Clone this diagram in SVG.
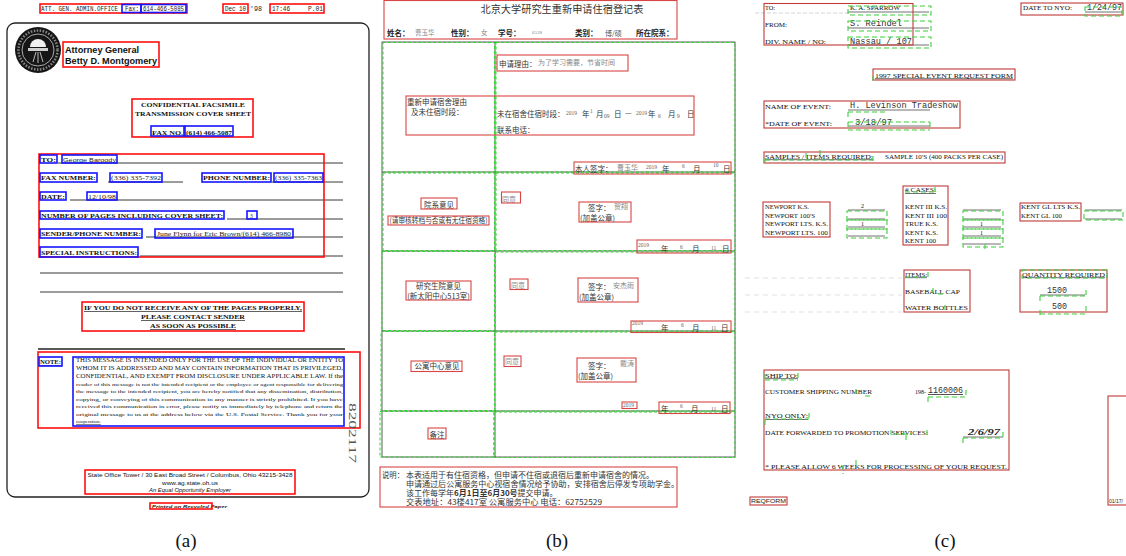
<svg xmlns="http://www.w3.org/2000/svg" width="1126" height="556" viewBox="0 0 1126 556">
<style>
.ra{fill:none;stroke:#ff1010;stroke-width:1.6}
.ba{fill:none;stroke:#1515ff;stroke-width:1.6}
.rb{fill:none;stroke:#d94545;stroke-width:1.1}
.gb{fill:none;stroke:#33d433;stroke-width:1;stroke-dasharray:3 2}
.rc{fill:none;stroke:#c23a3a;stroke-width:1.1}
.gc{fill:none;stroke:#3ccf3c;stroke-width:1.1;stroke-dasharray:5 3}
.ln{stroke:#222;stroke-width:0.9;fill:none}
.lnc{stroke:#333;stroke-width:0.7;fill:none}
.mono{font-family:"Liberation Mono",monospace}
.ser{font-family:"Liberation Serif",serif}
.sans{font-family:"Liberation Sans",sans-serif}
.cjk{font-family:"Noto Sans CJK SC",sans-serif}
.bd{font-weight:bold}
.gr{fill:#777}
.lab{font-family:"Liberation Serif",serif;font-size:19px;fill:#111}
.fa{font-family:"Liberation Serif",serif;font-weight:bold;font-size:6px;fill:#111}
.fv{font-family:"Liberation Serif",serif;font-size:5.6px;fill:#222}
.cb{font-family:"Noto Sans CJK SC",sans-serif;font-size:7.5px;fill:#333}
.cg{font-family:"Noto Sans CJK SC",sans-serif;font-size:7px;fill:#888}
.dg{font-family:"Liberation Serif",serif;font-size:5.5px;fill:#666}
.tc{font-family:"Liberation Serif",serif;font-size:6px;fill:#111}
.mc{font-family:"Liberation Mono",monospace;font-size:8.5px;fill:#333}
</style>
<rect width="1126" height="556" fill="#fff"/>

<!-- ================= PANEL A ================= -->
<g id="panel-a">
  <g id="a-header" class="mono" font-size="6.5" fill="#222">
    <text x="41" y="11" textLength="77" lengthAdjust="spacingAndGlyphs">ATT. GEN. ADMIN.OFFICE</text>
    <text x="125" y="11" textLength="14" lengthAdjust="spacingAndGlyphs">Fax:</text>
    <text x="143" y="11" textLength="41" lengthAdjust="spacingAndGlyphs">614-466-5085</text>
    <text x="225" y="11" textLength="21" lengthAdjust="spacingAndGlyphs">Dec 10</text>
    <text x="250" y="11" textLength="12" lengthAdjust="spacingAndGlyphs">'98</text>
    <text x="272" y="11" textLength="18" lengthAdjust="spacingAndGlyphs">17:46</text>
    <text x="308" y="11" textLength="15" lengthAdjust="spacingAndGlyphs">P.01</text>
    <rect class="ra" x="40" y="4" width="147" height="9"/>
    <rect class="ba" x="122" y="4.5" width="19" height="8"/>
    <rect class="ba" x="141" y="4.5" width="45" height="8"/>
    <rect class="ra" x="223" y="4" width="25" height="9"/>
    <rect class="ra" x="270" y="4" width="54" height="9"/>
  </g>

  <rect id="a-page" x="7" y="23" width="362" height="474" rx="8" fill="none" stroke="#222" stroke-width="1.3"/>

  <g id="a-seal">
    <circle cx="38" cy="50" r="23" fill="#161616"/>
    <circle cx="38" cy="50" r="19.5" fill="none" stroke="#888" stroke-width="2.5" stroke-dasharray="1.5 1.5"/>
    <circle cx="38" cy="50" r="16" fill="none" stroke="#e8e8e8" stroke-width="0.7"/>
    <path d="M30 47 a8 8 0 0 1 16 0 z" fill="#f0f0f0"/>
    <rect x="28" y="48" width="20" height="3" fill="#cfcfcf"/>
    <path d="M36 52 l-3 10 M40 52 l3 10 M38 52 v11" stroke="#bbb" stroke-width="1"/>
  </g>

  <g id="a-title">
    <text class="sans bd" x="65" y="53" font-size="9" fill="#111" textLength="74" lengthAdjust="spacingAndGlyphs">Attorney General</text>
    <text class="sans bd" x="65" y="64" font-size="9" fill="#111" textLength="92" lengthAdjust="spacingAndGlyphs">Betty D. Montgomery</text>
    <rect class="ra" x="63" y="42" width="96" height="25"/>
  </g>

  <g id="a-cover">
    <text class="ser bd" x="193" y="107" font-size="6.6" text-anchor="middle" fill="#111" textLength="104" lengthAdjust="spacingAndGlyphs">CONFIDENTIAL FACSIMILE</text>
    <text class="ser bd" x="193" y="116" font-size="6.6" text-anchor="middle" fill="#111" textLength="116" lengthAdjust="spacingAndGlyphs">TRANSMISSION COVER SHEET</text>
    <text class="ser bd" x="152" y="134.5" font-size="6.6" fill="#111" textLength="31" lengthAdjust="spacingAndGlyphs">FAX NO.</text>
    <text class="ser bd" x="186" y="134.5" font-size="6.6" fill="#111" textLength="46" lengthAdjust="spacingAndGlyphs">(614) 466-5087</text>
    <rect class="ra" x="132" y="99" width="121" height="38"/>
    <rect class="ba" x="151" y="126" width="33" height="10"/>
    <rect class="ba" x="185" y="126" width="48" height="10"/>
  </g>

  <g id="a-form">
    <g class="ln">
      <line x1="58" y1="163" x2="343" y2="163"/>
      <line x1="108" y1="182" x2="183" y2="182"/>
      <line x1="272" y1="182" x2="343" y2="182"/>
      <line x1="70" y1="200" x2="343" y2="200"/>
      <line x1="227" y1="219" x2="343" y2="219"/>
      <line x1="146" y1="237" x2="343" y2="237"/>
      <line x1="140" y1="256" x2="343" y2="256"/>
      <line x1="40" y1="273" x2="343" y2="273"/>
      <line x1="40" y1="292" x2="343" y2="292"/>
    </g>
    <text class="fa" x="41" y="162" textLength="15" lengthAdjust="spacingAndGlyphs">TO:</text>
    <text class="sans" x="63" y="162" font-size="5.5" fill="#222" textLength="53" lengthAdjust="spacingAndGlyphs">George Baroody</text>
    <text class="fa" x="41" y="180" textLength="55" lengthAdjust="spacingAndGlyphs">FAX NUMBER:</text>
    <text class="fv" x="111" y="180" textLength="50" lengthAdjust="spacingAndGlyphs">(336) 335-7392</text>
    <text class="fa" x="203" y="180" textLength="67" lengthAdjust="spacingAndGlyphs">PHONE NUMBER:</text>
    <text class="fv" x="275" y="180" textLength="47" lengthAdjust="spacingAndGlyphs">(336) 335-7363</text>
    <text class="fa" x="41" y="199" textLength="24" lengthAdjust="spacingAndGlyphs">DATE:</text>
    <text class="fv" x="88" y="199" textLength="28" lengthAdjust="spacingAndGlyphs">12/10/98</text>
    <text class="fa" x="41" y="218" textLength="182" lengthAdjust="spacingAndGlyphs">NUMBER OF PAGES INCLUDING COVER SHEET:</text>
    <text class="fv" x="250" y="218">3</text>
    <text class="fa" x="41" y="236" textLength="100" lengthAdjust="spacingAndGlyphs">SENDER/PHONE NUMBER:</text>
    <text class="fv" x="157" y="236" textLength="134" lengthAdjust="spacingAndGlyphs">June Flynn for Eric Brown/(614) 466-8980</text>
    <text class="fa" x="41" y="255" textLength="96" lengthAdjust="spacingAndGlyphs">SPECIAL INSTRUCTIONS:</text>
    <rect class="ra" x="39" y="154" width="285" height="103"/>
    <rect class="ba" x="40" y="155" width="17" height="8"/>
    <rect class="ba" x="62" y="155" width="55" height="8"/>
    <rect class="ba" x="40" y="173" width="57" height="9"/>
    <rect class="ba" x="110" y="173" width="52" height="9"/>
    <rect class="ba" x="202" y="173" width="69" height="9"/>
    <rect class="ba" x="274" y="173" width="49" height="9"/>
    <rect class="ba" x="40" y="192" width="26" height="8"/>
    <rect class="ba" x="87" y="192" width="30" height="8"/>
    <rect class="ba" x="40" y="211" width="184" height="8"/>
    <rect class="ba" x="247" y="211" width="10" height="8"/>
    <rect class="ba" x="40" y="229" width="102" height="9"/>
    <rect class="ba" x="155" y="229" width="138" height="9"/>
    <rect class="ba" x="40" y="247" width="98" height="10"/>
  </g>

  <g id="a-warning">
    <text class="ser bd" x="193" y="310" font-size="6.6" text-anchor="middle" fill="#111" text-decoration="underline" textLength="218" lengthAdjust="spacingAndGlyphs">IF YOU DO NOT RECEIVE ANY OF THE PAGES PROPERLY,</text>
    <text class="ser bd" x="193" y="319" font-size="6.6" text-anchor="middle" fill="#111" text-decoration="underline" textLength="104" lengthAdjust="spacingAndGlyphs">PLEASE CONTACT SENDER</text>
    <text class="ser bd" x="193" y="328" font-size="6.6" text-anchor="middle" fill="#111" text-decoration="underline" textLength="86" lengthAdjust="spacingAndGlyphs">AS SOON AS POSSIBLE</text>
    <rect class="ra" x="82" y="302" width="222" height="29"/>
  </g>

  <g id="a-note">
    <line x1="38" y1="349" x2="345" y2="349" stroke="#222" stroke-width="1.4"/>
    <text class="fa" x="40" y="364" font-size="5.5" text-decoration="underline" textLength="21" lengthAdjust="spacingAndGlyphs">NOTE:</text>
    <g class="ser" fill="#111">
      <text x="76" y="362" font-size="5.8" textLength="267" lengthAdjust="spacingAndGlyphs">THIS MESSAGE IS INTENDED ONLY FOR THE USE OF THE INDIVIDUAL OR ENTITY TO</text>
      <text x="76" y="370" font-size="5.8" textLength="267" lengthAdjust="spacingAndGlyphs">WHOM IT IS ADDRESSED AND MAY CONTAIN INFORMATION THAT IS PRIVILEGED,</text>
      <text x="76" y="378" font-size="5.8" textLength="267" lengthAdjust="spacingAndGlyphs">CONFIDENTIAL, AND EXEMPT FROM DISCLOSURE UNDER APPLICABLE LAW.  If the</text>
      <text x="76" y="385.5" font-size="5" textLength="267" lengthAdjust="spacingAndGlyphs">reader of this message is not the intended recipient or the employee or agent responsible for delivering</text>
      <text x="76" y="393" font-size="5" textLength="267" lengthAdjust="spacingAndGlyphs">the message to the intended recipient, you are hereby notified that any dissemination, distribution,</text>
      <text x="76" y="400.5" font-size="5" textLength="267" lengthAdjust="spacingAndGlyphs">copying, or conveying of this communication in any manner is strictly prohibited.  If you have</text>
      <text x="76" y="408" font-size="5" textLength="267" lengthAdjust="spacingAndGlyphs">received this communication in error, please notify us immediately by telephone and return the</text>
      <text x="76" y="415.5" font-size="5" textLength="267" lengthAdjust="spacingAndGlyphs">original message to us at the address below via the U.S. Postal Service.  Thank you for your</text>
      <text x="76" y="423" font-size="5" text-decoration="underline">cooperation.</text>
    </g>
    <rect class="ra" x="38" y="352" width="322" height="76"/>
    <rect class="ba" x="39" y="357" width="23" height="9"/>
    <rect class="ba" x="73" y="357" width="271" height="69"/>
    <text class="ser" x="349" y="403" font-size="11" fill="#555" transform="rotate(90 349 403)" textLength="60" lengthAdjust="spacingAndGlyphs">8202117</text>
  </g>

  <g id="a-footer">
    <text class="sans" x="190" y="476.5" font-size="5.6" text-anchor="middle" fill="#111" textLength="205" lengthAdjust="spacingAndGlyphs">State Office Tower / 30 East Broad Street / Columbus, Ohio  43215-3428</text>
    <text class="sans" x="190" y="484.5" font-size="5.6" text-anchor="middle" fill="#111" textLength="56" lengthAdjust="spacingAndGlyphs">www.ag.state.oh.us</text>
    <text class="sans" x="190" y="492" font-size="5.4" font-style="italic" text-anchor="middle" fill="#111" textLength="82" lengthAdjust="spacingAndGlyphs">An Equal Opportunity Employer</text>
    <rect class="ra" x="85" y="470" width="210" height="24"/>
    <text class="sans bd" x="152" y="508" font-size="3.6" font-style="italic" fill="#111" textLength="75" lengthAdjust="spacingAndGlyphs">Printed on Recycled Paper</text>
    <rect class="ra" x="150" y="503" width="62" height="6" stroke-width="1.2"/>
  </g>
  <text class="lab" x="186" y="547" text-anchor="middle">(a)</text>
</g>

<!-- ================= PANEL B ================= -->
<g id="panel-b">
  <g id="b-head">
    <text class="cjk" x="562" y="12.5" font-size="10" text-anchor="middle" fill="#333" textLength="163" lengthAdjust="spacingAndGlyphs">北京大学研究生重新申请住宿登记表</text>
    <g class="cjk" font-size="7.5">
      <text x="387" y="36" class="bd" fill="#222">姓名：</text>
      <text x="415" y="35" fill="#888" font-size="6.5">曹玉华</text>
      <text x="451" y="36" class="bd" fill="#222">性别：</text>
      <text x="481" y="35" fill="#888" font-size="6.5">女</text>
      <text x="498" y="36" class="bd" fill="#222">学号：</text>
      <text x="532" y="34" class="ser" fill="#888" font-size="5">6528</text>
      <text x="575" y="36" class="bd" fill="#222">类别：</text>
      <text x="605" y="36" fill="#555" font-size="7">博/硕</text>
      <text x="636" y="36" class="bd" fill="#222">所在院系：</text>
    </g>
    <rect class="rb" x="384" y="0.5" width="293" height="38.5"/>
  </g>

  <g id="b-grid">
    <rect x="382" y="42" width="353" height="415" fill="none" stroke="#333" stroke-width="0.8"/>
    <g stroke="#333" stroke-width="0.8">
      <line x1="495" y1="42" x2="495" y2="457"/>
      <line x1="382" y1="172" x2="735" y2="172"/>
      <line x1="382" y1="251" x2="735" y2="251"/>
      <line x1="382" y1="331" x2="735" y2="331"/>
      <line x1="382" y1="411" x2="735" y2="411"/>
    </g>
    <g class="gb">
      <rect x="383" y="42.5" width="111.5" height="129.5"/>
      <rect x="496" y="42.5" width="239" height="129.5"/>
      <rect x="383" y="173" width="111.5" height="77.5"/>
      <rect x="496" y="173" width="239" height="77.5"/>
      <rect x="382" y="251.5" width="112.5" height="79"/>
      <rect x="495.5" y="252" width="239.5" height="79"/>
      <rect x="381" y="331.5" width="113.5" height="79"/>
      <rect x="494.5" y="332" width="240.5" height="79"/>
      <rect x="380" y="411.5" width="114" height="45.5"/>
      <rect x="494" y="412" width="241" height="45.5"/>
    </g>
  </g>

  <g id="b-row1">
    <text class="cb" x="499" y="67" font-size="7">申请理由：</text>
    <text class="cg" x="538" y="65" font-size="7">为了学习需要，节省时间</text>
    <rect class="rb" x="497" y="55" width="131" height="16"/>
    <text class="cb" x="407" y="105" font-size="7.8">重新申请宿舍理由</text>
    <text class="cb" x="411" y="114.5" font-size="7.3">及未住宿时段：</text>
    <text class="cb" x="497" y="117" font-size="7.5">未在宿舍住宿时段：</text>
    <text class="dg" x="566" y="115">2019</text>
    <text class="cb" x="582" y="117">年</text>
    <text class="dg" x="590" y="113" font-size="4.5">1</text>
    <text class="cb" x="596" y="117">月</text>
    <text class="dg" x="604" y="118">09</text>
    <text class="cb" x="614" y="117">日</text>
    <text class="cb" x="625" y="116">—</text>
    <text class="dg" x="636" y="115">2019</text>
    <text class="cb" x="648" y="117">年</text>
    <text class="dg" x="658" y="118">6</text>
    <text class="cb" x="668" y="117">月</text>
    <text class="dg" x="677" y="118">9</text>
    <text class="cb" x="687" y="117">日</text>
    <text class="cb" x="497" y="133">联系电话：</text>
    <rect class="rb" x="406" y="96" width="288" height="39"/>
    <text class="cb" x="575" y="172" font-size="7.3">本人签字：</text>
    <text class="cg" x="617" y="170">曹玉华</text>
    <text class="dg" x="646" y="169">2019</text>
    <text class="cb" x="662" y="172">年</text>
    <text class="dg" x="682" y="168">6</text>
    <text class="cb" x="693" y="172">月</text>
    <text class="dg" x="713" y="167">10</text>
    <text class="cb" x="723" y="172">日</text>
    <rect class="rb" x="574" y="162" width="157" height="12"/>
  </g>

  <g id="b-row2">
    <text class="cb" x="439" y="207.5" font-size="8" text-anchor="middle">院系意见</text>
    <rect class="rb" x="421" y="198" width="36" height="11"/>
    <text class="cb" x="438.5" y="223" font-size="5.9" text-anchor="middle" textLength="98" lengthAdjust="spacingAndGlyphs">(请审核转档与否或有无住宿资格)</text>
    <rect class="rb" x="388" y="216" width="101" height="9"/>
    <text class="cg" x="502" y="201.5" font-size="7.8">同意</text>
    <rect class="rb" x="501.5" y="192" width="19" height="11"/>
    <text class="cb" x="588" y="211">签字：</text>
    <text class="cg" x="614" y="209">贺翔</text>
    <text class="cb" x="580" y="220.5">(加盖公章)</text>
    <rect class="rb" x="579" y="202" width="52" height="20"/>
    <text class="dg" x="638" y="247">2019</text>
    <text class="cb" x="661" y="252">年</text>
    <text class="dg" x="680" y="249">6</text>
    <text class="cb" x="692" y="252">月</text>
    <text class="dg" x="711" y="250">11</text>
    <text class="cb" x="722" y="252">日</text>
    <rect class="rb" x="637" y="240" width="94" height="13"/>
  </g>

  <g id="b-row3">
    <text class="cb" x="438.5" y="289" font-size="8.4" text-anchor="middle">研究生院意见</text>
    <text class="cb" x="438.5" y="298.5" font-size="7" text-anchor="middle">(新太阳中心513室)</text>
    <rect class="rb" x="406" y="281" width="65" height="19"/>
    <text class="cg" x="511" y="288" font-size="7.8">同意</text>
    <rect class="rb" x="510" y="279" width="18" height="10.5"/>
    <text class="cb" x="588" y="290">签字：</text>
    <text class="cg" x="613" y="288">安杰雨</text>
    <text class="cb" x="579" y="300">(加盖公章)</text>
    <rect class="rb" x="578" y="278" width="60" height="24"/>
    <text class="dg" x="632" y="325">2019</text>
    <text class="cb" x="661" y="330.5">年</text>
    <text class="dg" x="681" y="327">6</text>
    <text class="cb" x="692" y="330.5">月</text>
    <text class="dg" x="711" y="330">11</text>
    <text class="cb" x="721" y="330.5">日</text>
    <rect class="rb" x="631" y="321" width="100" height="11.5"/>
  </g>

  <g id="b-row4">
    <text class="cb" x="437" y="369" font-size="8.2" text-anchor="middle">公寓中心意见</text>
    <rect class="rb" x="411" y="361" width="51" height="10.5"/>
    <text class="cg" x="505" y="364" font-size="7.5">同意</text>
    <rect class="rb" x="504" y="356" width="17" height="10.5"/>
    <text class="cb" x="588" y="369">签字：</text>
    <text class="cg" x="620" y="366">戴涛</text>
    <text class="cb" x="578" y="378.5">(加盖公章)</text>
    <rect class="rb" x="577" y="358" width="59" height="24"/>
    <text class="dg" x="623" y="407">2019</text>
    <rect class="rb" x="622" y="402" width="15" height="6.5"/>
    <text class="cb" x="661" y="411.5">年</text>
    <text class="dg" x="680" y="408">6</text>
    <text class="cb" x="691" y="411.5">月</text>
    <text class="dg" x="711" y="411">11</text>
    <text class="cb" x="721" y="411.5">日</text>
    <rect class="rb" x="659" y="402" width="71" height="11.5"/>
  </g>

  <g id="b-row5">
    <text class="cb" x="437" y="437.5" font-size="8" text-anchor="middle">备注</text>
    <rect class="rb" x="428" y="428" width="18" height="11"/>
  </g>

  <g id="b-notes" class="cjk" font-size="8" fill="#333">
    <text x="382" y="477.5" textLength="22" lengthAdjust="spacingAndGlyphs">说明：</text>
    <text x="406" y="477.5" textLength="248" lengthAdjust="spacingAndGlyphs">本表适用于有住宿资格，但申请不住宿或退宿后重新申请宿舍的情况。</text>
    <text x="406" y="486.5" textLength="273" lengthAdjust="spacingAndGlyphs">申请通过后公寓服务中心视宿舍情况给予协助，安排宿舍后停发专项助学金。</text>
    <text x="406" y="495.5">该工作每学年<tspan font-weight="bold">6月1日至6月30号</tspan>提交申请。</text>
    <text x="406" y="505" textLength="196" lengthAdjust="spacingAndGlyphs">交表地址：43楼417室 公寓服务中心   电话：62752529</text>
    <rect class="rb" x="380" y="467" width="297" height="40"/>
  </g>
  <text class="lab" x="557" y="547" text-anchor="middle">(b)</text>
</g>

<!-- ================= PANEL C ================= -->
<g id="panel-c">
  <g id="c-head">
    <line x1="755" y1="13" x2="848" y2="13" stroke="#bbb" stroke-width="0.6" stroke-dasharray="4 2"/>
    <g class="lnc">
      <line x1="848" y1="12" x2="929" y2="12"/>
      <line x1="848" y1="28" x2="929" y2="28"/>
      <line x1="848" y1="45" x2="929" y2="45"/>
      <line x1="1085" y1="12" x2="1122" y2="12"/>
    </g>
    <text class="tc" x="765" y="10" textLength="10" lengthAdjust="spacingAndGlyphs">TO:</text>
    <text class="tc" x="850" y="10" textLength="50" lengthAdjust="spacingAndGlyphs">K. A. SPARROW</text>
    <text class="tc" x="765" y="27" textLength="22" lengthAdjust="spacingAndGlyphs">FROM:</text>
    <text class="mc" x="850" y="26" textLength="52" lengthAdjust="spacingAndGlyphs">S. Reindel</text>
    <text class="tc" x="765" y="44" textLength="61" lengthAdjust="spacingAndGlyphs">DIV. NAME / NO:</text>
    <text class="mc" x="850" y="43.5" textLength="62" lengthAdjust="spacingAndGlyphs">Nassau / 107</text>
    <rect class="rc" x="764" y="3.5" width="149" height="41.5"/>
    <rect class="gc" x="848" y="6" width="83" height="9"/>
    <rect class="gc" x="848" y="21" width="83" height="10"/>
    <rect class="gc" x="848" y="37" width="83" height="11"/>
    <text class="tc" x="1023" y="10" textLength="49" lengthAdjust="spacingAndGlyphs">DATE TO NYO:</text>
    <text class="mc" x="1087" y="10" textLength="35" lengthAdjust="spacingAndGlyphs">1/24/97</text>
    <rect class="rc" x="1021" y="3" width="102" height="12"/>
    <rect class="gc" x="1085" y="7" width="37" height="9"/>
  </g>

  <g id="c-formtitle">
    <text class="tc" x="875" y="77.5" text-decoration="underline" textLength="138" lengthAdjust="spacingAndGlyphs">1997 SPECIAL EVENT REQUEST FORM</text>
    <rect class="rc" x="873" y="69" width="142" height="11"/>
    <path class="gc" d="M873 76 v6"/>
  </g>

  <g id="c-event">
    <line class="lnc" x1="848" y1="110" x2="930" y2="110"/>
    <line class="lnc" x1="848" y1="126" x2="930" y2="126"/>
    <text class="tc" x="765" y="108.5" textLength="66" lengthAdjust="spacingAndGlyphs">NAME OF EVENT:</text>
    <text class="mc" x="850" y="108" textLength="108" lengthAdjust="spacingAndGlyphs">H. Levinson Tradeshow</text>
    <text class="tc" x="765" y="125.5" textLength="67" lengthAdjust="spacingAndGlyphs">*DATE OF EVENT:</text>
    <text class="mc" x="855" y="124.5" textLength="37" lengthAdjust="spacingAndGlyphs">3/18/97</text>
    <rect class="rc" x="764" y="101" width="196" height="27"/>
    <path class="gc" d="M848 112 h40 M848 112 v5 M848 122 h82 M848 122 v8 M848 130 h82 M930 122 v8"/>
  </g>

  <g id="c-samples">
    <text class="tc" x="765" y="158.5" text-decoration="underline" textLength="108" lengthAdjust="spacingAndGlyphs">SAMPLES / ITEMS REQUIRED:</text>
    <text class="tc" x="885" y="158.5" textLength="118" lengthAdjust="spacingAndGlyphs">SAMPLE 10'S (400 PACKS PER CASE)</text>
    <rect class="rc" x="764" y="152" width="241" height="11"/>
    <path class="gc" d="M765 158 v6 M765 160 h108 M806 153 v6 M873 156 v6 M820 150 v6"/>
  </g>

  <g id="c-brands">
    <text class="tc" x="765" y="209" textLength="44" lengthAdjust="spacingAndGlyphs">NEWPORT K.S.</text>
    <text class="tc" x="765" y="217.5" textLength="50" lengthAdjust="spacingAndGlyphs">NEWPORT 100'S</text>
    <text class="tc" x="765" y="226" textLength="63" lengthAdjust="spacingAndGlyphs">NEWPORT LTS. K.S.</text>
    <text class="tc" x="765" y="234.5" textLength="63" lengthAdjust="spacingAndGlyphs">NEWPORT LTS. 100</text>
    <rect class="rc" x="763" y="202" width="67" height="35"/>
    <g class="lnc">
      <line x1="848" y1="210" x2="885" y2="210"/>
      <line x1="848" y1="219" x2="885" y2="219"/>
      <line x1="848" y1="227" x2="885" y2="227"/>
      <line x1="848" y1="236" x2="885" y2="236"/>
    </g>
    <text class="tc" x="861" y="208" font-size="7">2</text>
    <text class="tc" x="861" y="226" font-size="7">1</text>
    <rect class="gc" x="847" y="211" width="40" height="9"/>
    <rect class="gc" x="847" y="220" width="40" height="9"/>
    <rect class="gc" x="847" y="229" width="40" height="9"/>

    <text class="tc" x="905" y="192" text-decoration="underline" textLength="31" lengthAdjust="spacingAndGlyphs"># CASES:</text>
    <text class="tc" x="905" y="209" textLength="42" lengthAdjust="spacingAndGlyphs">KENT III K.S.</text>
    <text class="tc" x="905" y="217.5" textLength="42" lengthAdjust="spacingAndGlyphs">KENT III 100</text>
    <text class="tc" x="905" y="226" textLength="33" lengthAdjust="spacingAndGlyphs">TRUE K.S.</text>
    <text class="tc" x="905" y="234.5" textLength="33" lengthAdjust="spacingAndGlyphs">KENT K.S.</text>
    <text class="tc" x="905" y="243" textLength="31" lengthAdjust="spacingAndGlyphs">KENT 100</text>
    <rect class="rc" x="903" y="186" width="45" height="59"/>
    <path class="gc" d="M905 192 h30 M935 187 v6"/>
    <g class="lnc">
      <line x1="963" y1="210" x2="1001" y2="210"/>
      <line x1="963" y1="219" x2="1001" y2="219"/>
      <line x1="963" y1="227" x2="1001" y2="227"/>
      <line x1="963" y1="236" x2="1001" y2="236"/>
      <line x1="963" y1="244" x2="1001" y2="244"/>
    </g>
    <text class="tc" x="980" y="226" font-size="7">1</text>
    <text class="tc" x="980" y="234.5" font-size="7">1</text>
    <rect class="gc" x="963" y="211" width="40" height="9"/>
    <rect class="gc" x="963" y="220" width="40" height="9"/>
    <rect class="gc" x="963" y="229" width="40" height="9"/>
    <rect class="gc" x="963" y="238" width="40" height="9"/>
    <path class="gc" d="M985 244 v6"/>

    <text class="tc" x="1021" y="209" textLength="59" lengthAdjust="spacingAndGlyphs">KENT GL LTS K.S.</text>
    <text class="tc" x="1021" y="217.5" textLength="41" lengthAdjust="spacingAndGlyphs">KENT GL 100</text>
    <rect class="rc" x="1020" y="203" width="61" height="18"/>
    <g class="lnc">
      <line x1="1085" y1="210" x2="1122" y2="210"/>
      <line x1="1085" y1="219" x2="1122" y2="219"/>
    </g>
    <rect class="gc" x="1084" y="211" width="39" height="9"/>
  </g>

  <g id="c-items">
    <g stroke="#ccc" stroke-width="0.6" stroke-dasharray="5 4">
      <line x1="745" y1="278" x2="902" y2="278"/>
      <line x1="745" y1="295" x2="902" y2="295"/>
      <line x1="745" y1="312" x2="902" y2="312"/>
    </g>
    <text class="tc" x="905" y="276.5" text-decoration="underline" textLength="22" lengthAdjust="spacingAndGlyphs">ITEMS:</text>
    <text class="tc" x="905" y="293.5" textLength="55" lengthAdjust="spacingAndGlyphs">BASEBALL CAP</text>
    <text class="tc" x="905" y="309.5" textLength="63" lengthAdjust="spacingAndGlyphs">WATER BOTTLES</text>
    <rect class="rc" x="904" y="270" width="66" height="42"/>
    <path class="gc" d="M905 277 h22 M928 272 v7 M933 288 v8 M938 294 h6 M945 305 v8"/>
    <text class="tc" x="1022" y="276.5" text-decoration="underline" textLength="83" lengthAdjust="spacingAndGlyphs">QUANTITY REQUIRED</text>
    <text class="mc" x="1047" y="292.5" font-size="8" textLength="20" lengthAdjust="spacingAndGlyphs">1500</text>
    <text class="mc" x="1052" y="309" font-size="8" textLength="15" lengthAdjust="spacingAndGlyphs">500</text>
    <line class="lnc" x1="1040" y1="295" x2="1085" y2="295"/>
    <rect class="rc" x="1020" y="270" width="87" height="42"/>
    <rect class="gc" x="1022" y="270" width="85" height="8"/>
    <path class="gc" d="M1040 296 h46 M1040 296 v6 M1086 290 v6 M1040 314 h46 M1040 310 v6 M1086 306 v6"/>
  </g>

  <g id="c-ship">
    <text class="tc" x="765" y="377.5" text-decoration="underline" textLength="33" lengthAdjust="spacingAndGlyphs">SHIP TO:</text>
    <text class="tc" x="765" y="393.5" textLength="107" lengthAdjust="spacingAndGlyphs">CUSTOMER SHIPPING NUMBER</text>
    <text class="tc" x="915" y="393.5" font-size="5.5">198-</text>
    <text class="mc" x="928" y="393" font-size="8.5" textLength="35" lengthAdjust="spacingAndGlyphs" text-decoration="underline">1160006</text>
    <text class="tc" x="765" y="418" text-decoration="underline" textLength="43" lengthAdjust="spacingAndGlyphs">NYO ONLY:</text>
    <text class="tc" x="765" y="434.5" textLength="163" lengthAdjust="spacingAndGlyphs">DATE FORWARDED TO PROMOTION SERVICES:</text>
    <text class="ser" x="968" y="435" font-size="9" font-style="italic" font-weight="bold" fill="#222" textLength="32" lengthAdjust="spacingAndGlyphs">2/6/97</text>
    <line class="lnc" x1="963" y1="437" x2="1003" y2="437"/>
    <text class="tc" x="765" y="468.5" textLength="242" lengthAdjust="spacingAndGlyphs">* PLEASE ALLOW 6 WEEKS FOR PROCESSING OF YOUR REQUEST.</text>
    <rect class="rc" x="764" y="370" width="245" height="100"/>
    <path class="gc" d="M765 374 v6 M765 380 h33 M798 373 v6 M856 389 v8 M865 396 h7 M928 397 h38 M928 397 v6 M966 390 v6 M765 419 h44 M809 413 v6 M765 420 v6 M891 430 v7 M894 434 h17 M906 435 v7 M927 430 v6 M963 438 h40 M963 438 v6 M1003 432 v6 M843 465 v9 M856 460 v8"/>
    <text class="sans" x="751" y="503" font-size="5" fill="#222" textLength="35" lengthAdjust="spacingAndGlyphs">REQFORM</text>
    <rect class="rc" x="750" y="497" width="37" height="8"/>
    <text class="sans" x="1109" y="503" font-size="5" fill="#222">01/17/</text>
    <rect class="rc" x="1108" y="396" width="22" height="109"/>
  </g>
  <text class="lab" x="945" y="547" text-anchor="middle">(c)</text>
</g>
</svg>
